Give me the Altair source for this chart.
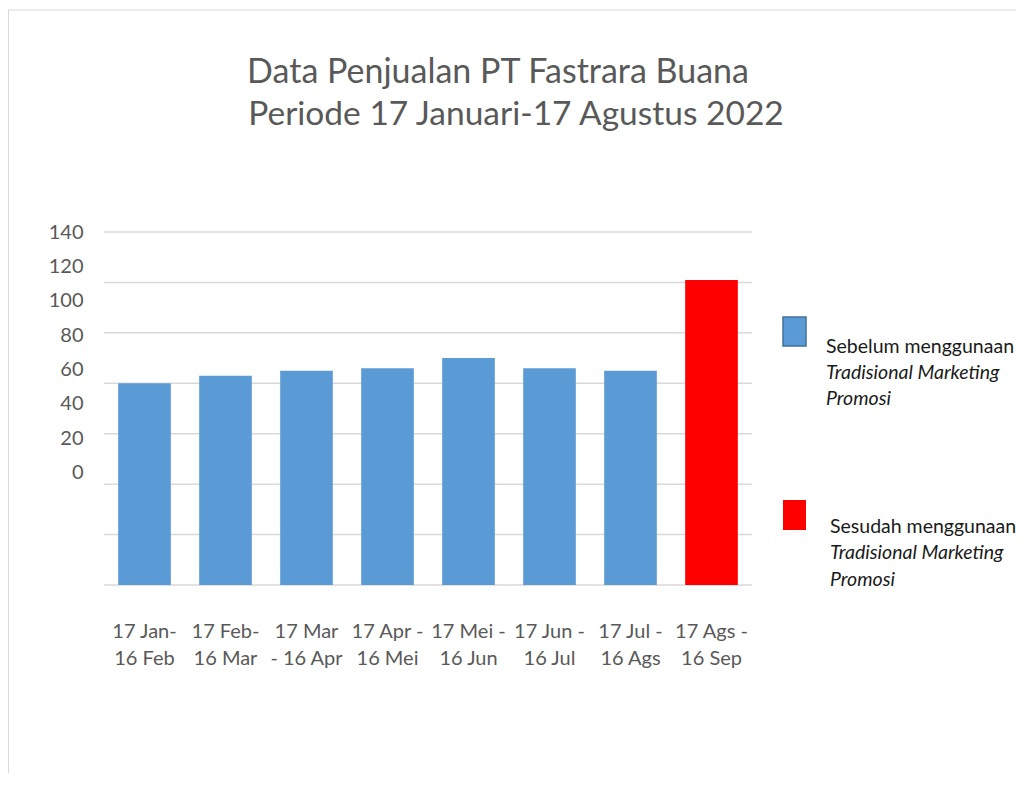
import altair as alt
import pandas as pd

# ---- data ----
line1 = ["17 Jan-", "17 Feb-", "17 Mar", "17 Apr -", "17 Mei -", "17 Jun -", "17 Jul -", "17 Ags -"]
line2 = ["16 Feb", "16 Mar", "- 16 Apr", "16 Mei", "16 Jun", "16 Jul", "16 Ags", "16 Sep"]
sales = [80, 83, 85, 86, 90, 86, 85, 121]
status = ["Sebelum"] * 7 + ["Sesudah"]
grid_values = [0, 20, 40, 60, 80, 100, 120, 140]
tick_labels = [0, 20, 40, 60, 80, 100, 120, 140]
title_lines = ["Data Penjualan PT Fastrara Buana", "Periode 17 Januari-17 Agustus 2022"]
legend_before = ["Sebelum menggunaan", "Tradisional  Marketing", "Promosi"]
legend_after = ["Sesudah menggunaan", "Tradisional Marketing", "Promosi"]

FONT = "Lato"
GRAY = "#595959"
BLUE = "#5B9BD5"
RED = "#FF0000"

cats = [a + "|" + b for a, b in zip(line1, line2)]
df = pd.DataFrame({"periode": cats, "penjualan": sales, "status": status})
grid_df = pd.DataFrame({"v": grid_values})
tick_df = pd.DataFrame({"v": tick_labels})
one = pd.DataFrame({"a": [0]})

W, H = 648, 353

yscale = alt.Scale(domain=[0, 140], nice=False, zero=True)

grid = alt.Chart(grid_df).mark_rule(color="#D9D9D9", strokeWidth=1.5).encode(
    y=alt.Y("v:Q", scale=yscale, axis=None)
)

bars = alt.Chart(df).mark_bar().encode(
    x=alt.X(
        "periode:N",
        sort=cats,
        scale=alt.Scale(paddingInner=0.35, paddingOuter=0.175),
        title=None,
        axis=alt.Axis(
            labelExpr="split(datum.label, '|')",
            labelAngle=0,
            labelFont=FONT,
            labelFontSize=20,
            labelColor=GRAY,
            labelPadding=36,
            labelLineHeight=27,
            labelBaseline="top",
            ticks=False,
            domain=False,
            grid=False,
        ),
    ),
    y=alt.Y("penjualan:Q", scale=yscale, axis=None),
    color=alt.Color(
        "status:N",
        scale=alt.Scale(domain=["Sebelum", "Sesudah"], range=[BLUE, RED]),
        legend=None,
    ),
)

# y labels (drawn on their own, offset scale as in the reference)
ylabels = alt.Chart(tick_df).mark_point(opacity=0).encode(
    y=alt.Y(
        "v:Q",
        scale=alt.Scale(domain=[-65.4, 140], nice=False, zero=False),
        axis=alt.Axis(
            orient="left",
            values=tick_labels,
            labelFont=FONT,
            labelFontSize=20,
            labelColor=GRAY,
            labelPadding=21,
            ticks=False,
            domain=False,
            grid=False,
            title=None,
        ),
    )
)

title1 = alt.Chart(one).mark_text(
    text=title_lines[0], font=FONT, fontSize=34, color=GRAY, align="center", baseline="middle"
).encode(x=alt.value(394), y=alt.value(-159))
title2 = alt.Chart(one).mark_text(
    text=title_lines[1], font=FONT, fontSize=33.5, color=GRAY, align="center", baseline="middle"
).encode(x=alt.value(412), y=alt.value(-117))

sw1 = alt.Chart(one).mark_rect(fill=BLUE, stroke="#41719C", strokeWidth=1.5).encode(
    x=alt.value(679), x2=alt.value(702), y=alt.value(85), y2=alt.value(114)
)
sw2 = alt.Chart(one).mark_rect(fill=RED).encode(
    x=alt.value(679), x2=alt.value(702), y=alt.value(268), y2=alt.value(298)
)

def legend_text(lines, x0, ys):
    out = []
    for i, (t, yy) in enumerate(zip(lines, ys)):
        out.append(
            alt.Chart(one).mark_text(
                text=t, font=FONT, fontSize=19.5, color="#1A1A1A", align="left",
                baseline="middle", fontStyle="normal" if i == 0 else "italic",
            ).encode(x=alt.value(x0), y=alt.value(yy))
        )
    return out

lt1 = legend_text(legend_before, 722, [115, 141, 167])
lt2 = legend_text(legend_after, 726, [295, 321, 348])

# outer frame (only the top and left edges are visible in the reference)
frame_top = alt.Chart(one).mark_rule(color="#D9D9D9", strokeWidth=1).encode(
    x=alt.value(-96), x2=alt.value(920), y=alt.value(-222)
)
frame_left = alt.Chart(one).mark_rule(color="#D9D9D9", strokeWidth=1).encode(
    x=alt.value(-95.5), y=alt.value(-222), y2=alt.value(560)
)

chart = alt.layer(
    frame_top, frame_left, grid, bars, ylabels, title1, title2, sw1, sw2, *lt1, *lt2
).resolve_scale(y="independent").properties(
    width=W,
    height=H,
    background="white",
    autosize=alt.AutoSizeParams(type="none"),
    padding={"left": 96, "top": 224, "right": 264, "bottom": 188},
).configure_view(strokeWidth=0, stroke="transparent")

chart.save("out.html", embed_options={"renderer": "svg", "actions": False})
